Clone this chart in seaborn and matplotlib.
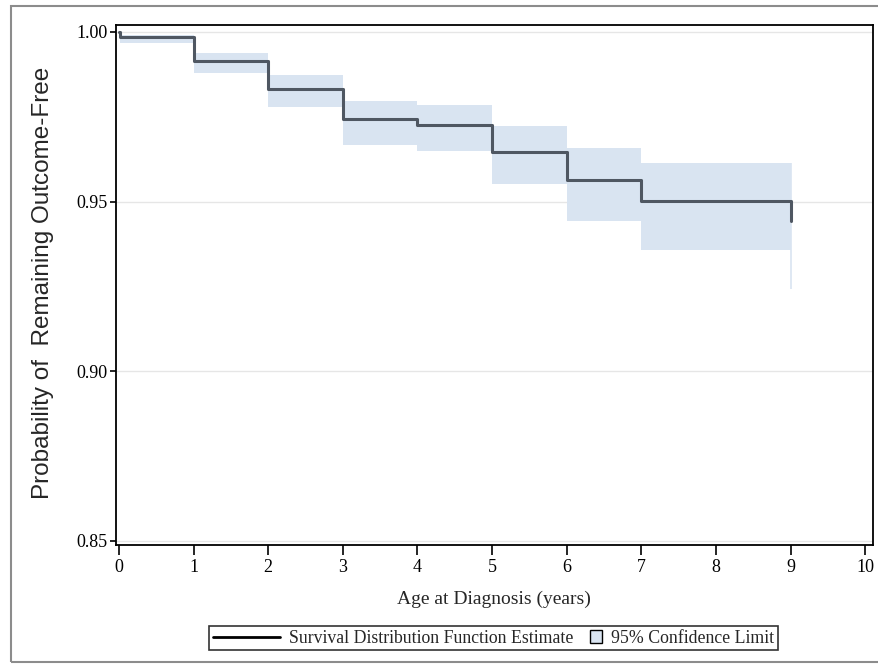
import matplotlib
matplotlib.use("Agg")
import matplotlib.pyplot as plt
import matplotlib.patches as mpatches
from matplotlib.lines import Line2D
from matplotlib.legend_handler import HandlerPatch
import seaborn as sns
import pandas as pd

# Kaplan-Meier style estimate
time = [0, 0.02, 1, 2, 3, 4, 5, 6, 7, 9]
surv = [1.0, 0.9985, 0.9915, 0.9833, 0.9742, 0.9725, 0.9647, 0.9563, 0.9501, 0.9443]
lower = [1.0, 0.9966, 0.9880, 0.9779, 0.9668, 0.9650, 0.9552, 0.9443, 0.9357, 0.9242]
upper = [1.0, 0.9991, 0.9939, 0.9873, 0.9797, 0.9784, 0.9722, 0.9658, 0.9614, 0.9614]

x_ticks = [0, 1, 2, 3, 4, 5, 6, 7, 8, 9, 10]
y_ticks = [0.85, 0.90, 0.95, 1.00]

df = pd.DataFrame({"time": time, "surv": surv, "lower": lower, "upper": upper})

band_color = "#d9e4f1"
line_color = "#4f5762"
serif = "Liberation Serif"

sns.set_theme(style="white")
plt.rcParams["font.family"] = [serif, "DejaVu Serif"]

fig = plt.figure(figsize=(8.79, 6.64), dpi=100)
ax = fig.add_axes([0.1316, 0.1797, 0.8613, 0.7826])

ax.fill_between(df["time"], df["lower"], df["upper"], step="post",
                color=band_color, linewidth=0, zorder=1)
ax.vlines(df["time"].iloc[-1], df["lower"].iloc[-1], df["upper"].iloc[-1],
          color=band_color, linewidth=1.2, zorder=1)
sns.lineplot(data=df, x="time", y="surv", drawstyle="steps-post", errorbar=None,
             color=line_color, linewidth=2.2, ax=ax, zorder=3)

ax.set_xlim(-0.044, 10.1)
ax.set_ylim(0.8489, 1.002)
ax.set_xticks(x_ticks)
ax.set_yticks(y_ticks)
ax.set_xticklabels([str(t) for t in x_ticks])
ax.set_yticklabels([f"{t:.2f}" for t in y_ticks])
ax.tick_params(axis="both", direction="out", width=1.2, colors="black",
               labelsize=13, bottom=True, left=True)
ax.tick_params(axis="x", length=7, pad=3.5)
ax.tick_params(axis="y", length=4.5, pad=1.5)
ax.yaxis.grid(True, color="#e6e6e6", linewidth=1, zorder=0)
ax.xaxis.grid(False)
for s in ax.spines.values():
    s.set_color("black")
    s.set_linewidth(1.3)

ax.set_xlabel("Age at Diagnosis (years)", fontsize=14, family=serif)
ax.xaxis.set_label_coords(0.5, -0.088)
ax.xaxis.label.set_va("top")
ax.set_ylabel("")
fig.text(43 / 879, 0.574, "Probability of  Remaining Outcome-Free", rotation=90,
         ha="center", va="center", fontsize=17.5, family="Liberation Sans")


def small_square(legend, orig_handle, xdescent, ydescent, width, height, fontsize):
    s = height * 1.0
    return mpatches.Rectangle((-xdescent + width - s, -ydescent + (height - s) / 2), s, s)


line_handle = Line2D([], [], color="black", linewidth=2)
band_handle = mpatches.Patch(facecolor=band_color, edgecolor="black", linewidth=1)
leg = fig.legend([line_handle, band_handle],
                 ["Survival Distribution Function Estimate", "95% Confidence Limit"],
                 handler_map={band_handle: HandlerPatch(patch_func=small_square)},
                 loc="center", bbox_to_anchor=(0.5614, 0.0385), ncol=2,
                 frameon=True, fancybox=False, handlelength=3.8,
                 handletextpad=0.5, columnspacing=-2.2, borderpad=0.2,
                 borderaxespad=0, prop={"family": serif, "size": 12.8})
leg.get_frame().set_edgecolor("black")
leg.get_frame().set_linewidth(1.2)

fig.patches.append(mpatches.Rectangle((11 / 879, 2 / 664), 1.0, 656 / 664,
                                      transform=fig.transFigure, fill=False,
                                      edgecolor="#8c8c8c", linewidth=1.5))

fig.savefig("out.png", dpi=100)
